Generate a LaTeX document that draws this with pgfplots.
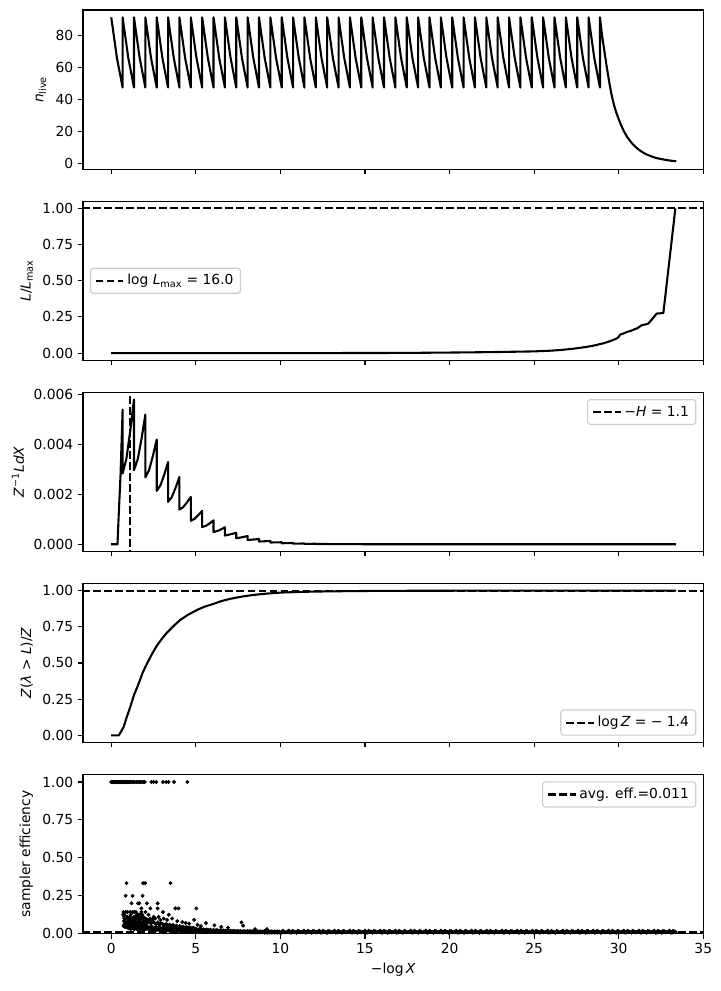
\documentclass[border=0pt]{standalone}
\usepackage{fontspec}
\setmainfont{DejaVu Sans}
\usepackage{pgfplots}
\pgfplotsset{compat=1.18}
\pgfplotsset{
  myaxis/.style={
    scale only axis, width=446.6bp, height=114.67bp,
    xmin=-1.67, xmax=35, xtick={0,5,...,35},
    anchor=south west,
    axis line style={line width=0.8bp},
    tick style={line width=0.8bp, black},
    major tick length=3.5bp,
    tick align=outside,
    xtick pos=left, ytick pos=left,
    /pgf/number format/assume math mode=true,
    scaled y ticks=false, scaled x ticks=false,
    legend cell align=left,
    legend style={draw=black!20, line width=0.8bp, rounded corners=2bp, fill=white, fill opacity=0.8, draw opacity=1, text opacity=1, font=\fontsize{10}{12}\selectfont, inner xsep=3bp, inner ysep=2.5bp},
    legend image code/.code={\draw[##1] (0bp,0bp) -- (20bp,0bp);},
  },
  mycurve/.style={black, line width=1.5bp, line join=round},
  mydash/.style={black, line width=1.5bp, dash pattern=on 5.55bp off 2.4bp},
  twodec/.style={yticklabel style={/pgf/number format/.cd, fixed, fixed zerofill, precision=2}},
  dots/.style={only marks, mark=*, mark size=1.2bp, mark options={draw=none, fill=black}, forget plot},
}
\begin{document}
\begin{tikzpicture}
\path[use as bounding box] (0,0) rectangle (519.12bp,713.52bp);
% Panel 1
\begin{axis}[myaxis, at={(59.76bp,591.65bp)}, ymin=-3.72, ymax=96.08, ytick={0,20,40,60,80}, xticklabels={}, ylabel={{\itshape n}\textsubscript{live}}]
\addplot[mycurve] coordinates {(0,91.5) (0.336,66) (0.672,47.5) (0.672,91.5) (1.008,66) (1.344,47.5) (1.344,91.5) (1.68,66) (2.016,47.5) (2.016,91.5) (2.352,66) (2.688,47.5) (2.688,91.5) (3.024,66) (3.36,47.5) (3.36,91.5) (3.696,66) (4.031,47.5) (4.031,91.5) (4.367,66) (4.703,47.5) (4.703,91.5) (5.039,66) (5.375,47.5) (5.375,91.5) (5.711,66) (6.047,47.5) (6.047,91.5) (6.383,66) (6.719,47.5) (6.719,91.5) (7.055,66) (7.391,47.5) (7.391,91.5) (7.727,66) (8.063,47.5) (8.063,91.5) (8.399,66) (8.735,47.5) (8.735,91.5) (9.071,66) (9.407,47.5) (9.407,91.5) (9.743,66) (10.079,47.5) (10.079,91.5) (10.415,66) (10.75,47.5) (10.75,91.5) (11.086,66) (11.422,47.5) (11.422,91.5) (11.758,66) (12.094,47.5) (12.094,91.5) (12.43,66) (12.766,47.5) (12.766,91.5) (13.102,66) (13.438,47.5) (13.438,91.5) (13.774,66) (14.11,47.5) (14.11,91.5) (14.446,66) (14.782,47.5) (14.782,91.5) (15.118,66) (15.454,47.5) (15.454,91.5) (15.79,66) (16.126,47.5) (16.126,91.5) (16.462,66) (16.798,47.5) (16.798,91.5) (17.134,66) (17.469,47.5) (17.469,91.5) (17.805,66) (18.141,47.5) (18.141,91.5) (18.477,66) (18.813,47.5) (18.813,91.5) (19.149,66) (19.485,47.5) (19.485,91.5) (19.821,66) (20.157,47.5) (20.157,91.5) (20.493,66) (20.829,47.5) (20.829,91.5) (21.165,66) (21.501,47.5) (21.501,91.5) (21.837,66) (22.173,47.5) (22.173,91.5) (22.509,66) (22.845,47.5) (22.845,91.5) (23.181,66) (23.517,47.5) (23.517,91.5) (23.853,66) (24.188,47.5) (24.188,91.5) (24.524,66) (24.86,47.5) (24.86,91.5) (25.196,66) (25.532,47.5) (25.532,91.5) (25.868,66) (26.204,47.5) (26.204,91.5) (26.54,66) (26.876,47.5) (26.876,91.5) (27.212,66) (27.548,47.5) (27.548,91.5) (27.884,66) (28.22,47.5) (28.22,91.5) (28.556,66) (28.892,47.5) (28.892,91.5) (28.95,86) (29.0,81.5) (29.06,77) (29.13,72) (29.2,67) (29.27,62) (29.33,58) (29.43,51.5) (29.53,45.5) (29.62,41) (29.72,36.6) (29.85,32) (30.02,27.1) (30.15,23.7) (30.31,20) (30.5,16.5) (30.71,13.5) (30.85,11.8) (31.0,10.2) (31.15,8.9) (31.3,7.7) (31.45,6.7) (31.6,5.8) (31.75,5.1) (31.9,4.5) (32.05,3.9) (32.2,3.4) (32.4,2.9) (32.6,2.5) (32.8,2.1) (33.0,1.8) (33.2,1.5) (33.4,1.3)};
\end{axis}
% Panel 2
\begin{axis}[myaxis, twodec, at={(59.76bp,454.05bp)}, ymin=-0.05, ymax=1.05, ytick={0,0.25,0.5,0.75,1}, xticklabels={}, ylabel={{\itshape L}/{\itshape L}\textsubscript{max}},
  legend style={at={(0,0.5)}, anchor=west, xshift=5bp}]
\addplot[mycurve, forget plot] coordinates {(0,0) (12,0.0003) (16,0.001) (18,0.002) (20,0.004) (21,0.005) (22,0.0065) (23,0.008) (24,0.01) (25,0.012) (26,0.017) (26.6,0.022) (27.3,0.03) (28.1,0.043) (28.6,0.054) (29.1,0.068) (29.5,0.083) (29.88,0.101) (30.0,0.112) (30.08,0.128) (30.27,0.135) (30.5,0.147) (30.7,0.153) (30.9,0.163) (31.1,0.172) (31.36,0.193) (31.55,0.197) (31.75,0.204) (32.0,0.238) (32.24,0.273) (32.64,0.277) (33.35,1.0)};
\addplot[mydash] coordinates {(-5,1) (40,1)};
\addlegendentry{log {\itshape L}\textsubscript{max} = 16.0}
\end{axis}
% Panel 3
\begin{axis}[myaxis, at={(59.76bp,316.45bp)}, ymin=-0.00029, ymax=0.0061, ytick={0,0.002,0.004,0.006}, xticklabels={}, ylabel={{\itshape Z}\textsuperscript{−1}{\itshape LdX}},
  yticklabel style={/pgf/number format/.cd, fixed, fixed zerofill, precision=3},
  legend style={at={(1,1)}, anchor=north east, xshift=-5bp, yshift=-5bp}]
\addplot[mycurve, forget plot] coordinates {(0,0) (0.37,0) (0.43,0.001) (0.55,0.0028) (0.672,0.0054) (0.672,0.00284) (0.896,0.00343) (1.12,0.00453) (1.344,0.00581) (1.344,0.00297) (1.568,0.00342) (1.792,0.00424) (2.016,0.0052) (2.016,0.00268) (2.24,0.00298) (2.464,0.00355) (2.688,0.0042) (2.688,0.00214) (2.912,0.00237) (3.136,0.0028) (3.36,0.0033) (3.36,0.0017) (3.584,0.0019) (3.808,0.00227) (4.031,0.0027) (4.031,0.00139) (4.255,0.00149) (4.479,0.00168) (4.703,0.0019) (4.703,0.00094) (4.927,0.00102) (5.151,0.00117) (5.375,0.00134) (5.375,0.00069) (5.599,0.00074) (5.823,0.00084) (6.047,0.00096) (6.047,0.00049) (6.383,0.00056) (6.719,0.00068) (6.719,0.00035) (7.055,0.0004) (7.391,0.00046) (7.391,0.00024) (7.727,0.00028) (8.063,0.00033) (8.063,0.00017) (8.399,0.00019) (8.735,0.00021) (8.735,0.00011) (9.407,0.00013) (9.407,0.00007) (10.079,0.00008) (10.079,0.00004) (10.75,0.00005) (10.75,0.000025) (11.422,0.00003) (11.422,0.000015) (12.094,0.00002) (12.094,0.00001) (12.766,0.000012) (12.766,0.000006) (14,0.000003) (16,0) (33.4,0)};
\addplot[mydash] coordinates {(1.1,-0.001) (1.1,0.007)};
\addlegendentry{−{\itshape H} = 1.1}
\end{axis}
% Panel 4
\begin{axis}[myaxis, twodec, at={(59.76bp,178.86bp)}, ymin=-0.05, ymax=1.05, ytick={0,0.25,0.5,0.75,1}, xticklabels={}, ylabel={{\itshape Z}({\itshape λ} > {\itshape L})/{\itshape Z}},
  legend style={at={(1,0)}, anchor=south east, xshift=-5bp, yshift=5bp}]
\addplot[mycurve, forget plot] coordinates {(0,0) (0.45,0) (0.55,0.02) (0.73,0.057) (0.9,0.12) (1.12,0.195) (1.35,0.28) (1.62,0.357) (1.85,0.43) (2.11,0.495) (2.4,0.56) (2.7,0.62) (3.0,0.668) (3.3,0.71) (3.7,0.757) (4.08,0.797) (4.5,0.83) (5.07,0.866) (5.5,0.888) (6.05,0.908) (6.5,0.927) (7.04,0.943) (7.7,0.958) (8.42,0.97) (9.2,0.979) (10,0.986) (11,0.99) (12,0.993) (14,0.996) (16,0.998) (20,0.999) (25,1.0) (33.4,1.0)};
\addplot[mydash] coordinates {(-5,1) (40,1)};
\addlegendentry{log\,{\itshape Z} = − 1.4}
\end{axis}
% Panel 5
\begin{axis}[myaxis, twodec, at={(59.76bp,41.26bp)}, ymin=0, ymax=1.05, ytick={0,0.25,0.5,0.75,1}, ylabel={sampler efficiency}, xlabel={−log\,{\itshape X}},
  legend style={at={(1,1)}, anchor=north east, xshift=-5bp, yshift=-5bp}]
\addplot[dots] coordinates {
(0,1) (0.04,1) (0.08,1) (0.12,1) (0.16,1) (0.2,1) (0.24,1) (0.28,1) (0.32,1) (0.36,1) (0.4,1) (0.44,1) (0.48,1) (0.52,1) (0.56,1) (0.6,1) (0.64,1) (0.68,1) (0.72,1) (0.76,1) (0.8,1) (0.84,1) (0.88,1) (0.92,1) (0.96,1) (1.0,1) (1.05,1) (1.1,1) (1.16,1) (1.24,1) (1.32,1) (1.4,1) (1.5,1) (1.58,1) (1.66,1) (1.74,1) (1.82,1) (1.9,1) (1.98,1) (2.37,1) (2.5,1) (2.66,1) (3.06,1) (3.25,1) (3.39,1) (3.71,1) (4.5,1)
(0.9,0.3333) (1.88,0.3333) (2.0,0.3333) (3.5,0.3333)
(0.85,0.25) (1.26,0.25) (1.85,0.25)
(1.2,0.2) (1.58,0.2) (1.66,0.2) (2.11,0.2) (2.74,0.2)
(1.78,0.1667) (2.31,0.1667) (2.74,0.1667) (3.79,0.1667) (3.98,0.1667) (5.03,0.1667)
(0.72,0.1429) (0.86,0.1429) (0.96,0.1429) (1.12,0.1429) (1.26,0.1429) (1.36,0.1429) (1.46,0.1429) (1.78,0.1429) (2.02,0.1429) (3.06,0.1429)
(0.76,0.125) (1.5,0.125) (1.58,0.125) (1.7,0.125) (1.83,0.125) (2.2,0.125) (3.4,0.125)
(0.76,0.1111) (0.95,0.1111) (1.1,0.1111) (1.55,0.1111) (1.9,0.1111) (2.5,0.1111) (2.8,0.1111)
(0.78,0.1) (1.0,0.1) (1.4,0.1) (1.6,0.1) (1.75,0.1) (2.05,0.1) (2.3,0.1) (2.6,0.1) (3.1,0.1) (3.6,0.1)
(0.8,0.0909) (1.15,0.0909) (1.7,0.0909) (2.15,0.0909) (2.45,0.0909) (2.9,0.0909) (3.3,0.0909) (4.9,0.0909)
(5.3,0.05) (5.6,0.07) (6.1,0.055) (6.5,0.045) (6.9,0.04) (7.7,0.075) (7.8,0.053) (8.5,0.03) (9.2,0.03) (4.2,0.077) (4.6,0.067) (5.1,0.059) (3.9,0.083) (4.4,0.071)
(0.70,0.125) (0.75,0.083) (0.80,0.100) (0.85,0.067) (0.90,0.111) (0.95,0.077) (1.00,0.091) (1.05,0.071) (1.10,0.059) (1.15,0.125) (1.20,0.083) (1.25,0.100) (1.30,0.067) (1.35,0.111) (1.40,0.077) (1.45,0.091) (1.50,0.071) (1.55,0.059) (1.60,0.125) (1.65,0.083) (1.70,0.100) (1.75,0.067) (1.80,0.111) (1.85,0.077) (1.90,0.091) (1.95,0.071) (2.00,0.059)
(0.72,0.050) (0.77,0.063) (0.82,0.043) (0.87,0.056) (0.92,0.048) (0.97,0.040) (1.02,0.053) (1.07,0.050) (1.12,0.063) (1.17,0.043) (1.22,0.056) (1.27,0.048) (1.32,0.040) (1.37,0.053) (1.42,0.050) (1.47,0.063) (1.52,0.043) (1.57,0.056) (1.62,0.048) (1.67,0.040) (1.72,0.053) (1.77,0.050) (1.82,0.063) (1.87,0.043) (1.92,0.056) (1.97,0.048) (2.02,0.040)
(1.05,0.036) (1.15,0.031) (1.25,0.038) (1.35,0.029) (1.45,0.034) (1.55,0.027) (1.65,0.033) (1.75,0.025) (1.85,0.031) (1.95,0.024) (1.3,0.087) (1.6,0.077) (1.9,0.067)
(2.05,0.087) (2.05,0.052) (2.05,0.030) (2.15,0.071) (2.15,0.046) (2.15,0.034) (2.25,0.083) (2.25,0.040) (2.25,0.028) (2.35,0.066) (2.35,0.049) (2.35,0.031) (2.45,0.077) (2.45,0.043) (2.45,0.026) (2.55,0.072) (2.55,0.038) (2.55,0.029) (2.65,0.062) (2.65,0.045) (2.65,0.024) (2.75,0.074) (2.75,0.036) (2.75,0.027) (2.85,0.059) (2.85,0.042) (2.85,0.022) (2.95,0.068) (2.95,0.034) (2.95,0.025)
(3.05,0.063) (3.05,0.040) (3.05,0.021) (3.15,0.056) (3.15,0.032) (3.15,0.024) (3.25,0.065) (3.25,0.037) (3.25,0.020) (3.35,0.053) (3.35,0.030) (3.35,0.022) (3.45,0.060) (3.45,0.035) (3.45,0.019) (3.55,0.050) (3.55,0.028) (3.55,0.021) (3.65,0.057) (3.65,0.033) (3.65,0.018) (3.75,0.047) (3.75,0.027) (3.75,0.020) (3.85,0.054) (3.85,0.031) (3.85,0.017) (3.95,0.045) (3.95,0.025) (3.95,0.019)
(4.05,0.050) (4.05,0.029) (4.05,0.016) (4.15,0.042) (4.15,0.024) (4.15,0.018) (4.25,0.047) (4.25,0.027) (4.25,0.015) (4.35,0.040) (4.35,0.023) (4.35,0.017) (4.45,0.044) (4.45,0.026) (4.45,0.014) (4.55,0.038) (4.55,0.022) (4.55,0.016) (4.65,0.042) (4.65,0.024) (4.65,0.013) (4.75,0.036) (4.75,0.021) (4.75,0.015) (4.85,0.040) (4.85,0.023) (4.85,0.013) (4.95,0.034) (4.95,0.020) (4.95,0.014)
(5.05,0.031) (5.05,0.018) (5.15,0.027) (5.15,0.015) (5.25,0.033) (5.25,0.017) (5.35,0.026) (5.35,0.014) (5.45,0.029) (5.45,0.016) (5.55,0.024) (5.55,0.013) (5.65,0.028) (5.65,0.015) (5.75,0.023) (5.75,0.014) (5.85,0.026) (5.85,0.012) (5.95,0.022) (5.95,0.015)
(6.05,0.025) (6.05,0.013) (6.15,0.021) (6.15,0.014) (6.25,0.024) (6.25,0.012) (6.35,0.020) (6.35,0.013) (6.45,0.023) (6.45,0.011) (6.55,0.019) (6.55,0.013) (6.65,0.022) (6.65,0.012) (6.75,0.018) (6.75,0.011) (6.85,0.021) (6.85,0.012) (6.95,0.018) (6.95,0.010)
(7.05,0.020) (7.05,0.012) (7.15,0.017) (7.15,0.011) (7.25,0.019) (7.25,0.010) (7.35,0.016) (7.35,0.011) (7.45,0.018) (7.45,0.010) (7.55,0.016) (7.55,0.011) (7.65,0.017) (7.65,0.009) (7.75,0.015) (7.75,0.010) (7.85,0.017) (7.85,0.009) (7.95,0.015) (7.95,0.010)
(8.05,0.018) (8.05,0.009) (8.15,0.016) (8.15,0.010) (8.25,0.017) (8.25,0.008) (8.35,0.015) (8.35,0.009) (8.45,0.017) (8.45,0.008) (8.55,0.015) (8.55,0.009) (8.65,0.016) (8.65,0.008) (8.75,0.014) (8.75,0.009) (8.85,0.016) (8.85,0.008) (8.95,0.014) (8.95,0.009)
(9.05,0.017) (9.05,0.007) (9.15,0.015) (9.15,0.008) (9.25,0.016) (9.25,0.007) (9.35,0.014) (9.35,0.008) (9.45,0.016) (9.45,0.007) (9.55,0.014) (9.55,0.008) (9.65,0.015) (9.65,0.007) (9.75,0.014) (9.75,0.008) (9.85,0.015) (9.85,0.007) (9.95,0.013) (9.95,0.008)
};
\addplot[dots] coordinates {
(10.05,0.006) (10.2,0.016) (10.35,0.011) (10.5,0.020) (10.65,0.008) (10.8,0.014) (10.95,0.006) (11.1,0.016) (11.25,0.011) (11.4,0.020) (11.55,0.008) (11.7,0.014)
(11.85,0.006) (12.0,0.016) (12.15,0.011) (12.3,0.020) (12.45,0.008) (12.6,0.014) (12.75,0.006) (12.9,0.016) (13.05,0.011) (13.2,0.020) (13.35,0.008) (13.5,0.014)
(13.65,0.006) (13.8,0.016) (13.95,0.011) (14.1,0.020) (14.25,0.008) (14.4,0.014) (14.55,0.006) (14.7,0.016) (14.85,0.011) (15.0,0.020) (15.15,0.008) (15.3,0.014)
(15.45,0.006) (15.6,0.016) (15.75,0.011) (15.9,0.020) (16.05,0.008) (16.2,0.014) (16.35,0.006) (16.5,0.016) (16.65,0.011) (16.8,0.020) (16.95,0.008) (17.1,0.014)
(17.25,0.006) (17.4,0.016) (17.55,0.011) (17.7,0.020) (17.85,0.008) (18.0,0.014) (18.15,0.006) (18.3,0.016) (18.45,0.011) (18.6,0.020) (18.75,0.008) (18.9,0.014)
(19.05,0.006) (19.2,0.016) (19.35,0.011) (19.5,0.020) (19.65,0.008) (19.8,0.014) (19.95,0.006) (20.1,0.016) (20.25,0.011) (20.4,0.020) (20.55,0.008) (20.7,0.014)
(20.85,0.006) (21.0,0.016) (21.15,0.011) (21.3,0.020) (21.45,0.008) (21.6,0.014) (21.75,0.006) (21.9,0.016) (22.05,0.011) (22.2,0.020) (22.35,0.008) (22.5,0.014)
(22.65,0.006) (22.8,0.016) (22.95,0.011) (23.1,0.020) (23.25,0.008) (23.4,0.014) (23.55,0.006) (23.7,0.016) (23.85,0.011) (24.0,0.020) (24.15,0.008) (24.3,0.014)
(24.45,0.006) (24.6,0.016) (24.75,0.011) (24.9,0.020) (25.05,0.008) (25.2,0.014) (25.35,0.006) (25.5,0.016) (25.65,0.011) (25.8,0.020) (25.95,0.008) (26.1,0.014)
(26.25,0.006) (26.4,0.016) (26.55,0.011) (26.7,0.020) (26.85,0.008) (27.0,0.014) (27.15,0.006) (27.3,0.016) (27.45,0.011) (27.6,0.020) (27.75,0.008) (27.9,0.014)
(28.05,0.006) (28.2,0.016) (28.35,0.011) (28.5,0.020) (28.65,0.008) (28.8,0.014) (28.95,0.006) (29.1,0.016) (29.25,0.011) (29.4,0.020) (29.55,0.008) (29.7,0.014)
(29.85,0.006) (30.0,0.016) (30.15,0.011) (30.3,0.020) (30.45,0.008) (30.6,0.014) (30.75,0.006) (30.9,0.016) (31.05,0.011) (31.2,0.020) (31.35,0.008) (31.5,0.014)
(31.65,0.006) (31.8,0.016) (31.95,0.011) (32.1,0.020) (32.25,0.008) (32.4,0.014) (32.55,0.006) (32.7,0.016) (32.85,0.011) (33.0,0.020) (33.15,0.008) (33.3,0.014)
};
\addplot[dots] coordinates {
(10.12,0.018) (10.27,0.009) (10.42,0.013) (10.57,0.007) (10.72,0.019) (10.87,0.011) (11.02,0.018) (11.17,0.009) (11.32,0.013) (11.47,0.007) (11.62,0.019) (11.77,0.011)
(11.92,0.018) (12.07,0.009) (12.22,0.013) (12.37,0.007) (12.52,0.019) (12.67,0.011) (12.82,0.018) (12.97,0.009) (13.12,0.013) (13.27,0.007) (13.42,0.019) (13.57,0.011)
(13.72,0.018) (13.87,0.009) (14.02,0.013) (14.17,0.007) (14.32,0.019) (14.47,0.011) (14.62,0.018) (14.77,0.009) (14.92,0.013) (15.07,0.007) (15.22,0.019) (15.37,0.011)
(15.52,0.018) (15.67,0.009) (15.82,0.013) (15.97,0.007) (16.12,0.019) (16.27,0.011) (16.42,0.018) (16.57,0.009) (16.72,0.013) (16.87,0.007) (17.02,0.019) (17.17,0.011)
(17.32,0.018) (17.47,0.009) (17.62,0.013) (17.77,0.007) (17.92,0.019) (18.07,0.011) (18.22,0.018) (18.37,0.009) (18.52,0.013) (18.67,0.007) (18.82,0.019) (18.97,0.011)
(19.12,0.018) (19.27,0.009) (19.42,0.013) (19.57,0.007) (19.72,0.019) (19.87,0.011) (20.02,0.018) (20.17,0.009) (20.32,0.013) (20.47,0.007) (20.62,0.019) (20.77,0.011)
(20.92,0.018) (21.07,0.009) (21.22,0.013) (21.37,0.007) (21.52,0.019) (21.67,0.011) (21.82,0.018) (21.97,0.009) (22.12,0.013) (22.27,0.007) (22.42,0.019) (22.57,0.011)
(22.72,0.018) (22.87,0.009) (23.02,0.013) (23.17,0.007) (23.32,0.019) (23.47,0.011) (23.62,0.018) (23.77,0.009) (23.92,0.013) (24.07,0.007) (24.22,0.019) (24.37,0.011)
(24.52,0.018) (24.67,0.009) (24.82,0.013) (24.97,0.007) (25.12,0.019) (25.27,0.011) (25.42,0.018) (25.57,0.009) (25.72,0.013) (25.87,0.007) (26.02,0.019) (26.17,0.011)
(26.32,0.018) (26.47,0.009) (26.62,0.013) (26.77,0.007) (26.92,0.019) (27.07,0.011) (27.22,0.018) (27.37,0.009) (27.52,0.013) (27.67,0.007) (27.82,0.019) (27.97,0.011)
(28.12,0.018) (28.27,0.009) (28.42,0.013) (28.57,0.007) (28.72,0.019) (28.87,0.011) (29.02,0.018) (29.17,0.009) (29.32,0.013) (29.47,0.007) (29.62,0.019) (29.77,0.011)
(29.92,0.018) (30.07,0.009) (30.22,0.013) (30.37,0.007) (30.52,0.019) (30.67,0.011) (30.82,0.018) (30.97,0.009) (31.12,0.013) (31.27,0.007) (31.42,0.019) (31.57,0.011)
(31.72,0.018) (31.87,0.009) (32.02,0.013) (32.17,0.007) (32.32,0.019) (32.47,0.011) (32.62,0.018) (32.77,0.009) (32.92,0.013) (33.07,0.007) (33.22,0.019) (33.37,0.011)
};
\addplot[mydash] coordinates {(-5,0.011) (40,0.011)};
\addlegendentry{avg. eff.=0.011}
\end{axis}
\end{tikzpicture}
\end{document}
